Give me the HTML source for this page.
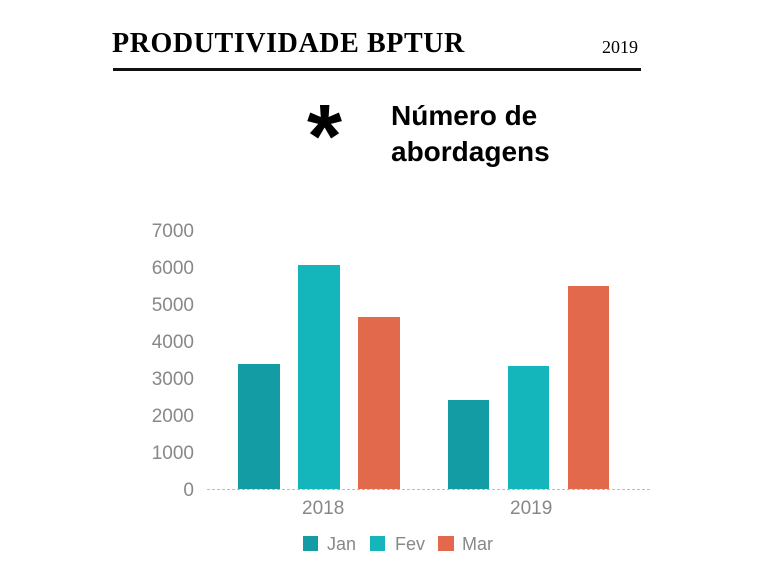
<!DOCTYPE html>
<html><head><style>
body{margin:0;width:768px;height:576px;background:#fff;position:relative;overflow:hidden;font-family:"Liberation Sans",sans-serif}
.a{position:absolute;white-space:nowrap;line-height:1}
.t{font-family:"Liberation Serif",serif;font-weight:bold}
.y{color:#888;font-size:19px;text-align:right;width:80px;left:114px}
.b{position:absolute}
</style></head><body>
<div class="a t" style="left:112px;top:30px;font-size:28px;letter-spacing:0.6px">PRODUTIVIDADE BPTUR</div>
<div class="a" style="left:602px;top:38px;font-size:18px;font-family:'Liberation Serif',serif">2019</div>
<div class="b" style="left:113px;top:68px;width:528px;height:3px;background:#111"></div>
<div class="a" style="left:307px;top:92px;font-size:90px;font-weight:bold">*</div>
<div class="a" style="left:391px;top:98px;font-size:28px;font-weight:bold;line-height:36px">Número de<br>abordagens</div>
<div class="a y" style="top:222px">7000</div>
<div class="a y" style="top:259px">6000</div>
<div class="a y" style="top:296px">5000</div>
<div class="a y" style="top:333px">4000</div>
<div class="a y" style="top:370px">3000</div>
<div class="a y" style="top:407px">2000</div>
<div class="a y" style="top:444px">1000</div>
<div class="a y" style="top:481px">0</div>
<div class="b" style="left:238px;top:364px;width:42px;height:125px;background:#139ca3"></div>
<div class="b" style="left:298px;top:265px;width:42px;height:224px;background:#14b5bb"></div>
<div class="b" style="left:358px;top:317px;width:42px;height:172px;background:#e3694c"></div>
<div class="b" style="left:448px;top:400px;width:41px;height:89px;background:#139ca3"></div>
<div class="b" style="left:508px;top:366px;width:41px;height:123px;background:#14b5bb"></div>
<div class="b" style="left:568px;top:286px;width:41px;height:203px;background:#e3694c"></div>
<div class="b" style="left:207px;top:489px;width:443px;border-top:1.5px dashed #bbb"></div>
<div class="a" style="left:302px;top:499px;font-size:19px;color:#888">2018</div>
<div class="a" style="left:510px;top:499px;font-size:19px;color:#888">2019</div>
<div class="b" style="left:303px;top:536px;width:15px;height:15px;background:#139ca3"></div>
<div class="a" style="left:327px;top:535px;font-size:18px;color:#888">Jan</div>
<div class="b" style="left:370px;top:536px;width:15px;height:15px;background:#14b5bb"></div>
<div class="a" style="left:395px;top:535px;font-size:18px;color:#888">Fev</div>
<div class="b" style="left:438px;top:536px;width:16px;height:15px;background:#e3694c"></div>
<div class="a" style="left:462px;top:535px;font-size:18px;color:#888">Mar</div>
</body></html>
